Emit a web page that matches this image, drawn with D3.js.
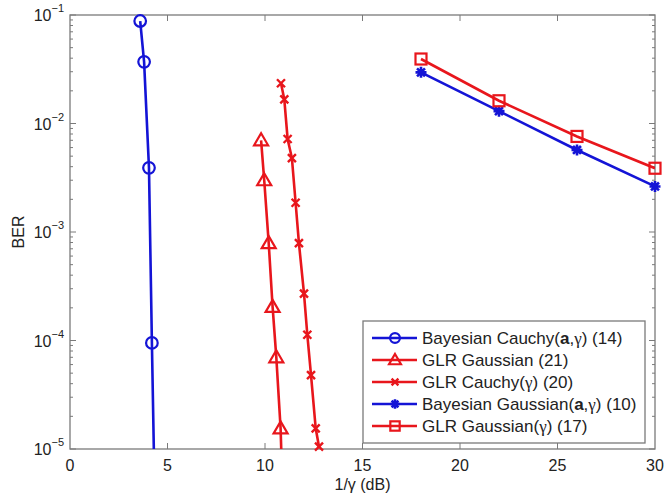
<!DOCTYPE html>
<html>
<head>
<meta charset="utf-8">
<script src="https://cdn.jsdelivr.net/npm/d3@7"></script>
<style>
    body { margin: 0; background: #fff; }
    text { font-family: 'Liberation Sans', Arial, sans-serif; fill: #222; }
</style>
</head>
<body>
<script>

// DATA

const bayesCauchyX = [3.6, 3.8, 4.05, 4.2, 4.4];
const bayesCauchyY = [0.088, 0.037, 0.0039, 9.5e-5, 1e-6];

const glrGaussX = [9.8, 9.96, 10.19, 10.39, 10.58, 10.8, 11.0];
const glrGaussY = [0.0070, 0.0030, 0.00079, 0.000204, 7.0e-5, 1.55e-5, 1e-6];

const glrCauchyX = [10.82, 10.99, 11.16, 11.38, 11.57, 11.74, 12.0, 12.17, 12.36, 12.6, 12.77];
const glrCauchyY = [0.0235, 0.0167, 0.0072, 0.0048, 0.00186, 0.00079, 0.00027, 0.000113, 4.8e-5, 1.55e-5, 1.05e-5];

const bayesGaussX = [18, 22, 26, 30];
const bayesGaussY = [0.0296, 0.0130, 0.0057, 0.00263];

const glrGaussGX = [18, 22, 26, 30];
const glrGaussGY = [0.0393, 0.0162, 0.0076, 0.00387];

const xTicks = [0, 5, 10, 15, 20, 25, 30];
const yTicks = [-5, -4, -3, -2, -1];

(function(){

const blue = '#1414d6',
    red = '#e8161c';

const series = [
    {name: ['Bayesian Cauchy(', 'a', ',γ) (14)'], x: bayesCauchyX, y: bayesCauchyY, color: blue, marker: 'circle'},
    {name: ['GLR Gaussian (21)'], x: glrGaussX, y: glrGaussY, color: red, marker: 'triangle'},
    {name: ['GLR Cauchy(γ) (20)'], x: glrCauchyX, y: glrCauchyY, color: red, marker: 'cross'},
    {name: ['Bayesian Gaussian(', 'a', ',γ) (10)'], x: bayesGaussX, y: bayesGaussY, color: blue, marker: 'star'},
    {name: ['GLR Gaussian(γ) (17)'], x: glrGaussGX, y: glrGaussGY, color: red, marker: 'square'}
];

// LAYOUT

const width = 665,
    height = 498,
    plotLeft = 70,
    plotRight = 655,
    plotTop = 15,
    plotBottom = 449;

const x = d3.scaleLinear().domain([0, 30]).range([plotLeft, plotRight]);
const y = d3.scaleLog().domain([1e-5, 1e-1]).range([plotBottom, plotTop]);

const svg = d3.select('body')
    .append('svg')
    .attr('width', width)
    .attr('height', height);

svg.append('defs')
    .append('clipPath')
    .attr('id', 'plotClip')
    .append('rect')
    .attr('x', plotLeft)
    .attr('y', plotTop)
    .attr('width', plotRight - plotLeft)
    .attr('height', plotBottom - plotTop);

// AXES

const axisColor = '#7a7a7a';

const minorY = y.ticks().filter(function(v){
    return Math.abs(Math.log10(v) - Math.round(Math.log10(v))) > 1e-6;
});

function drawYTicks(xPos, dir){
    const g = svg.append('g').attr('stroke', axisColor).attr('stroke-width', 1);
    g.selectAll('.major')
        .data(yTicks)
        .enter()
        .append('line')
        .attr('x1', xPos).attr('x2', xPos + dir * 6)
        .attr('y1', function(d){ return y(Math.pow(10, d)); })
        .attr('y2', function(d){ return y(Math.pow(10, d)); });
    g.selectAll('.minor')
        .data(minorY)
        .enter()
        .append('line')
        .attr('x1', xPos).attr('x2', xPos + dir * 3)
        .attr('y1', function(d){ return y(d); })
        .attr('y2', function(d){ return y(d); });
}

function drawXTicks(yPos, dir){
    svg.append('g')
        .attr('stroke', axisColor)
        .selectAll('line')
        .data(xTicks.slice(1, -1))
        .enter()
        .append('line')
        .attr('x1', function(d){ return x(d); })
        .attr('x2', function(d){ return x(d); })
        .attr('y1', yPos)
        .attr('y2', yPos + dir * 6);
}

drawYTicks(plotLeft, 1);
drawYTicks(plotRight, -1);
drawXTicks(plotBottom, -1);
drawXTicks(plotTop, 1);

svg.append('rect')
    .attr('x', plotLeft)
    .attr('y', plotTop)
    .attr('width', plotRight - plotLeft)
    .attr('height', plotBottom - plotTop)
    .attr('fill', 'none')
    .attr('stroke', axisColor)
    .attr('stroke-width', 1.3);

svg.append('g')
    .selectAll('text')
    .data(xTicks)
    .enter()
    .append('text')
    .attr('x', function(d){ return x(d); })
    .attr('y', plotBottom + 22)
    .attr('text-anchor', 'middle')
    .attr('font-size', 16)
    .text(function(d){ return d; });

const yLabels = svg.append('g')
    .selectAll('text')
    .data(yTicks)
    .enter()
    .append('text')
    .attr('x', plotLeft - 6)
    .attr('y', function(d){ return y(Math.pow(10, d)) + 6; })
    .attr('text-anchor', 'end')
    .attr('font-size', 16);
yLabels.append('tspan').text('10');
yLabels.append('tspan')
    .attr('dy', -9)
    .attr('font-size', 11)
    .text(function(d){ return '\u2212' + Math.abs(d); });

svg.append('text')
    .attr('x', (plotLeft + plotRight) / 2)
    .attr('y', 490)
    .attr('text-anchor', 'middle')
    .attr('font-size', 16)
    .text('1/γ (dB)');

svg.append('text')
    .attr('transform', 'translate(24,' + (plotTop + plotBottom) / 2 + ') rotate(-90)')
    .attr('text-anchor', 'middle')
    .attr('font-size', 16)
    .text('BER');

// MARKERS

function drawMarker(g, marker, cx, cy, color, k){
    k = k || 1;
    if (marker == 'circle'){
        g.append('circle').attr('cx', cx).attr('cy', cy).attr('r', 5.8 * k)
            .attr('fill', 'none').attr('stroke', color).attr('stroke-width', 2.2);
    } else if (marker == 'triangle'){
        g.append('path')
            .attr('d', 'M' + cx + ',' + (cy - 7 * k) + 'L' + (cx + 7 * k) + ',' + (cy + 5 * k) +
                'L' + (cx - 7 * k) + ',' + (cy + 5 * k) + 'Z')
            .attr('fill', 'none').attr('stroke', color).attr('stroke-width', 2.2);
    } else if (marker == 'square'){
        g.append('rect').attr('x', cx - 5.5 * k).attr('y', cy - 5.5 * k)
            .attr('width', 11 * k).attr('height', 11 * k)
            .attr('fill', 'none').attr('stroke', color).attr('stroke-width', 2.2);
    } else if (marker == 'cross'){
        const r = 4 * k;
        g.append('path')
            .attr('d', 'M' + (cx - r) + ',' + (cy - r) + 'L' + (cx + r) + ',' + (cy + r) +
                'M' + (cx + r) + ',' + (cy - r) + 'L' + (cx - r) + ',' + (cy + r))
            .attr('stroke', color).attr('stroke-width', 2.4);
    } else if (marker == 'star'){
        const r = 5.5 * k, s = r * 0.72;
        g.append('path')
            .attr('d', 'M' + (cx - r) + ',' + cy + 'L' + (cx + r) + ',' + cy +
                'M' + cx + ',' + (cy - r) + 'L' + cx + ',' + (cy + r) +
                'M' + (cx - s) + ',' + (cy - s) + 'L' + (cx + s) + ',' + (cy + s) +
                'M' + (cx + s) + ',' + (cy - s) + 'L' + (cx - s) + ',' + (cy + s))
            .attr('stroke', color).attr('stroke-width', 2.6);
    }
}

// LINES

const line = d3.line()
    .x(function(d){ return x(d[0]); })
    .y(function(d){ return y(d[1]); });

series.forEach(function(s){
    const pts = s.x.map(function(v, i){ return [v, s.y[i]]; });
    svg.append('path')
        .datum(pts)
        .attr('clip-path', 'url(#plotClip)')
        .attr('fill', 'none')
        .attr('stroke', s.color)
        .attr('stroke-width', 2.6)
        .attr('d', line);
    const mg = svg.append('g');
    pts.filter(function(p){ return p[1] >= 1e-5 && p[1] <= 1e-1; })
        .forEach(function(p){
            drawMarker(mg, s.marker, x(p[0]), y(p[1]), s.color);
        });
});

// LEGEND

const legendX = 363,
    legendY = 321,
    legendW = 282,
    legendH = 122,
    rowH = 22;

svg.append('rect')
    .attr('x', legendX)
    .attr('y', legendY)
    .attr('width', legendW)
    .attr('height', legendH)
    .attr('fill', '#fff')
    .attr('stroke', axisColor)
    .attr('stroke-width', 1.3);

series.forEach(function(s, i){
    const ry = legendY + 17 + i * rowH;
    svg.append('line')
        .attr('x1', legendX + 9).attr('x2', legendX + 54)
        .attr('y1', ry).attr('y2', ry)
        .attr('stroke', s.color).attr('stroke-width', 2.6);
    drawMarker(svg.append('g'), s.marker, legendX + 32, ry, s.color, 0.85);
    const t = svg.append('text')
        .attr('x', legendX + 59)
        .attr('y', ry + 6)
        .attr('font-size', 17);
    s.name.forEach(function(part){
        part.split(/(γ)/).forEach(function(seg){
            if (!seg) return;
            const ts = t.append('tspan').text(seg);
            if (part == 'a') ts.attr('font-weight', 'bold');
            if (seg == 'γ') ts.attr('font-family', 'Liberation Serif, serif');
        });
    });
});

})();

</script>
</body>
</html>
